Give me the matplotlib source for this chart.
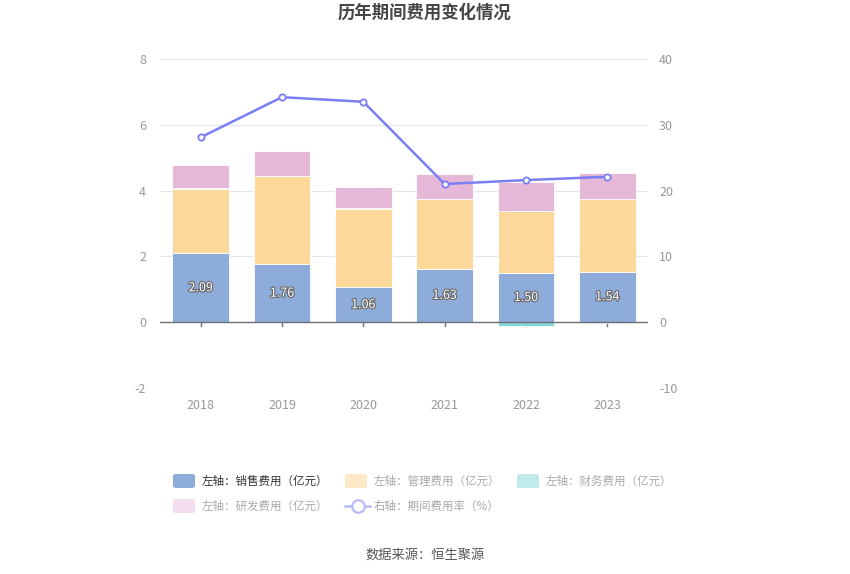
import matplotlib
matplotlib.use("Agg")
import matplotlib.pyplot as plt
import matplotlib.patheffects as pe
from matplotlib.lines import Line2D
from matplotlib.patches import FancyBboxPatch
import numpy as np

plt.rcParams['font.family'] = ['Noto Sans CJK SC', 'DejaVu Sans']
plt.rcParams['axes.unicode_minus'] = False

years = ['2018', '2019', '2020', '2021', '2022', '2023']
sales = [2.09, 1.76, 1.06, 1.63, 1.50, 1.54]
admin = [1.96, 2.67, 2.39, 2.12, 1.89, 2.20]
finance = [0.03, 0.01, 0.01, 0.005, -0.12, -0.01]
rnd = [0.70, 0.77, 0.66, 0.76, 0.86, 0.78]
rate = [28.1, 34.2, 33.5, 21.0, 21.6, 22.1]

left_ticks = [-2, 0, 2, 4, 6, 8]
right_ticks = [-10, 0, 10, 20, 30, 40]

c_sales = '#8eacd9'
c_admin = '#fdd89b'
c_fin = '#80d8d8'
c_rnd = '#e6b8d8'
c_line = '#7b7ff5'

W, H = 850, 574
fig = plt.figure(figsize=(W / 100, H / 100), dpi=100)
ax = fig.add_axes([160 / W, 1 - 388 / H, (648 - 160) / W, (388 - 59) / H])
ax2 = ax.twinx()

x = np.arange(len(years))
bw = 0.7
pos_bottom = np.zeros(len(years))
neg_bottom = np.zeros(len(years))
for vals, col in [(sales, c_sales), (admin, c_admin), (finance, c_fin), (rnd, c_rnd)]:
    v = np.array(vals, dtype=float)
    bottoms = np.where(v >= 0, pos_bottom, neg_bottom)
    ax.bar(x, v, bw, bottom=bottoms, color=col, edgecolor='white', linewidth=0.6, zorder=3)
    pos_bottom = pos_bottom + np.where(v >= 0, v, 0)
    neg_bottom = neg_bottom + np.where(v < 0, v, 0)

for i, v in enumerate(sales):
    ax.text(x[i], v / 2, f'{v:.2f}', ha='center', va='center', fontsize=9, color='white',
            zorder=5, path_effects=[pe.withStroke(linewidth=1.6, foreground='#666666')])

ax.set_xlim(-0.5, len(years) - 0.5)
ax.set_ylim(-2, 8)
ax.set_yticks(left_ticks)
ax.set_xticks(x)
ax.set_xticklabels(years)
ax.grid(axis='y', color='#e0e6f1', linewidth=0.8, zorder=0)
ax.set_axisbelow(True)
ax.axhline(0, color='#6e7079', linewidth=1, zorder=4)
for s in ax.spines.values():
    s.set_visible(False)
for s in ax2.spines.values():
    s.set_visible(False)
ax.tick_params(axis='y', length=0, colors='#999999', labelsize=9, pad=10)
ax.tick_params(axis='x', length=0, colors='#999999', labelsize=9, pad=8)
for xi in x:
    ax.plot([xi, xi], [0, -0.13], color='#6e7079', linewidth=1, zorder=2, clip_on=False)

ax2.plot(x, rate, color=c_line, linewidth=1.8, marker='o', markersize=4.5,
         markerfacecolor='white', markeredgecolor=c_line, markeredgewidth=1.3, zorder=6)
ax2.set_ylim(-10, 40)
ax2.set_yticks(right_ticks)
ax2.tick_params(axis='y', length=0, colors='#999999', labelsize=9, pad=8)
ax2.set_zorder(ax.get_zorder() + 1)
ax2.patch.set_visible(False)

fig.text(425 / W, 1 - 13 / H, '历年期间费用变化情况', ha='center', va='center',
         fontsize=12.5, fontweight='bold', color='#464646')
fig.text(425 / W, 1 - 555 / H, '数据来源：恒生聚源', ha='center', va='center',
         fontsize=9.5, color='#555555')

items = [
    (173, 481, 'patch', c_sales, '左轴：销售费用（亿元）', '#333333'),
    (345, 481, 'patch', '#fde9c8', '左轴：管理费用（亿元）', '#aaaaaa'),
    (517, 481, 'patch', '#c2eaea', '左轴：财务费用（亿元）', '#aaaaaa'),
    (173, 506, 'patch', '#f3dcec', '左轴：研发费用（亿元）', '#aaaaaa'),
    (345, 506, 'line', '#b9bbfa', '右轴：期间费用率（%）', '#aaaaaa'),
]
for px, py, kind, col, label, tcol in items:
    if kind == 'patch':
        p = FancyBboxPatch((px / W, 1 - (py + 7) / H), 22 / W, 14 / H,
                           boxstyle='round,pad=0,rounding_size=0.004',
                           transform=fig.transFigure, facecolor=col, edgecolor='none')
        fig.add_artist(p)
    else:
        fig.add_artist(Line2D([px / W, (px + 25) / W], [1 - py / H, 1 - py / H],
                              transform=fig.transFigure, color=col, linewidth=1.8))
        fig.add_artist(Line2D([(px + 12.5) / W], [1 - py / H], transform=fig.transFigure,
                              marker='o', markersize=9, markerfacecolor='white',
                              markeredgecolor=col, markeredgewidth=1.6))
    fig.text((px + 29) / W, 1 - py / H, label, ha='left', va='center', fontsize=8.3, color=tcol)

fig.savefig('out.png', dpi=100)
